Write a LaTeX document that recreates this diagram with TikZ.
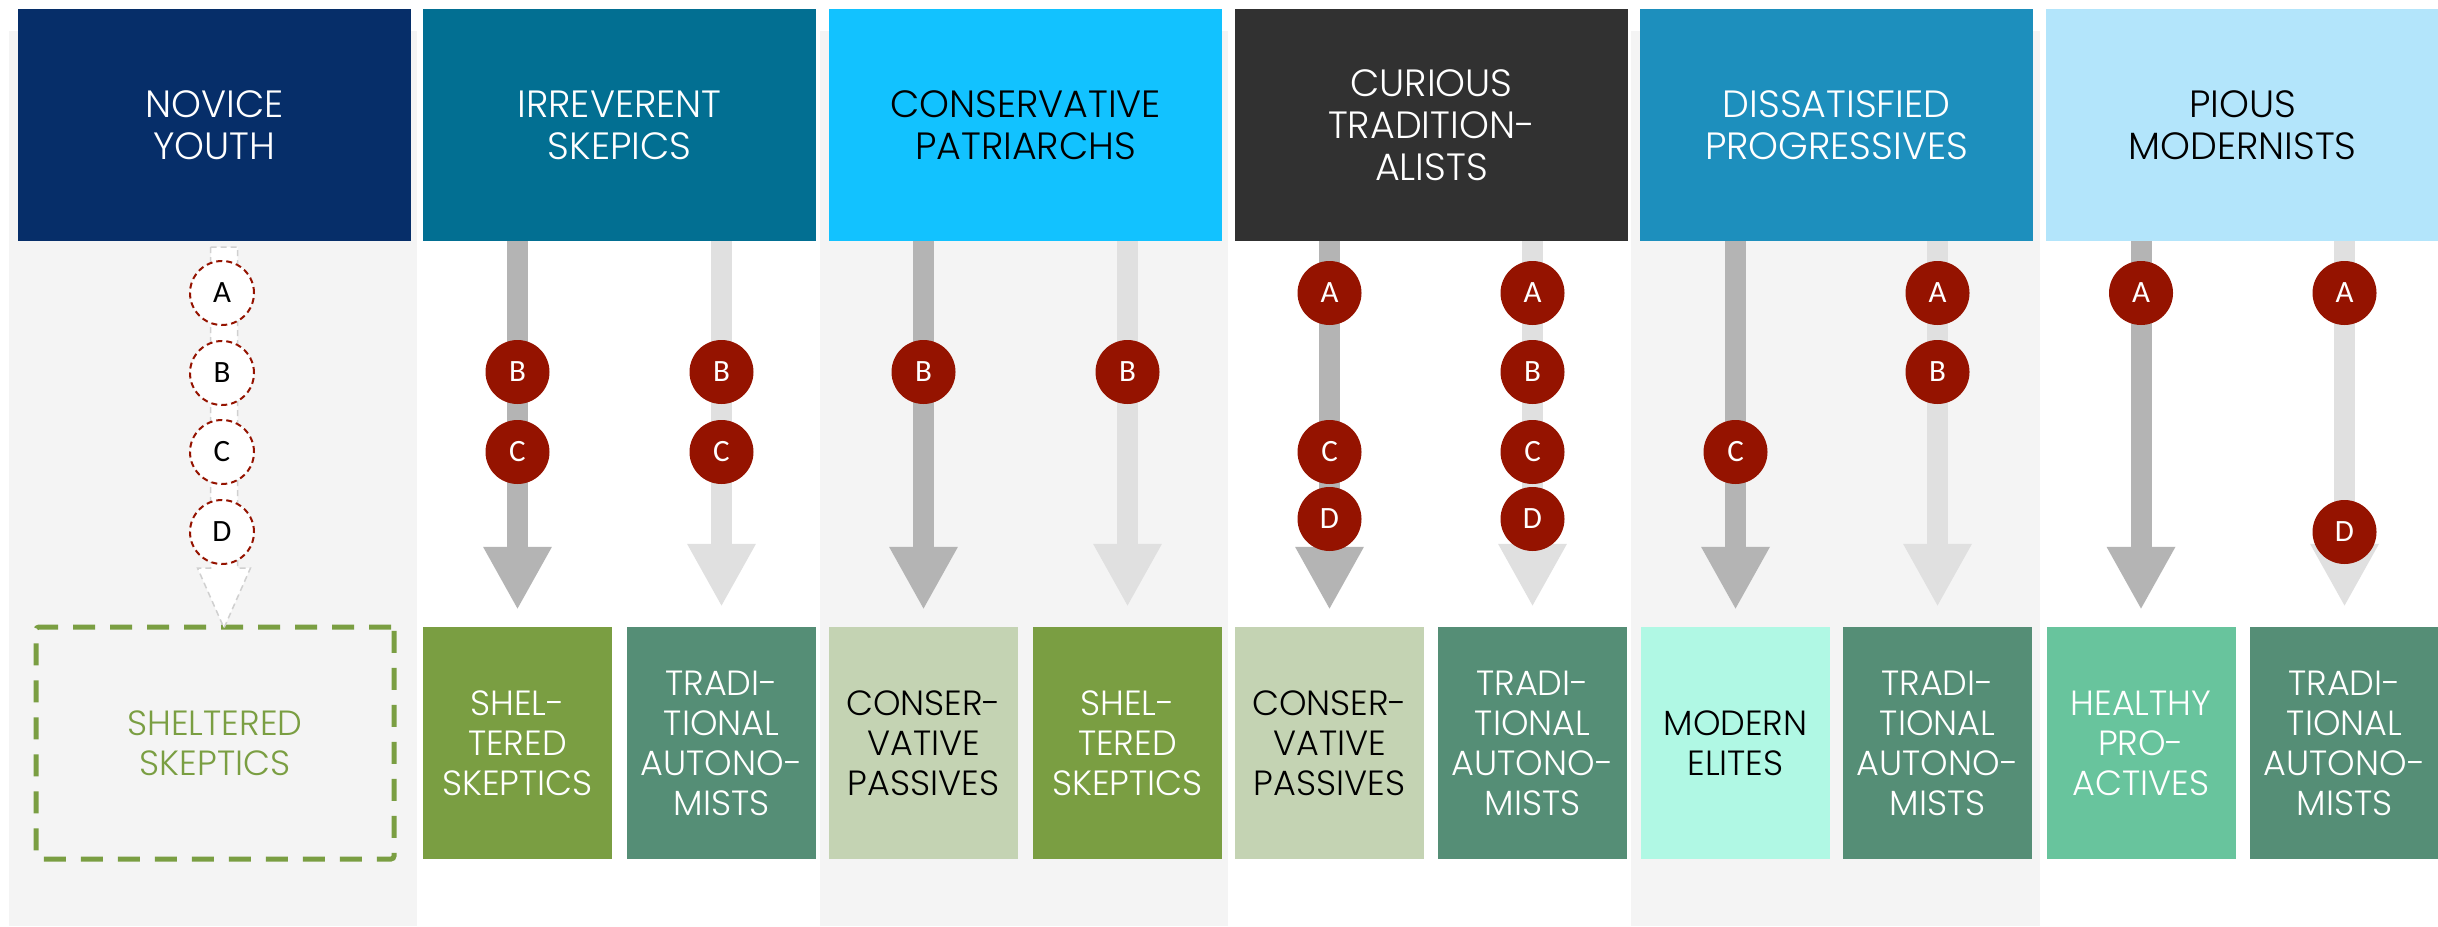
\documentclass[tikz,border=0pt]{standalone}
\usepackage{fontspec}
\usetikzlibrary{arrows.meta,calc}
\newfontfamily\headfont{Poppins}[UprightFont={* Light}]
\newfontfamily\circfont{Carlito}

\definecolor{navy}{HTML}{062E69}
\definecolor{teal}{HTML}{026F92}
\definecolor{cyan}{HTML}{12C2FF}
\definecolor{charcoal}{HTML}{313131}
\definecolor{midblue}{HTML}{1D8FBD}
\definecolor{paleblue}{HTML}{B3E5FB}
\definecolor{crimson}{HTML}{951300}
\definecolor{panel}{HTML}{F4F4F4}
\definecolor{arrowdark}{HTML}{B4B4B4}
\definecolor{arrowlight}{HTML}{E0E0E0}
\definecolor{ghostline}{HTML}{D0D0D0}
\definecolor{olive}{HTML}{7A9E42}
\definecolor{sage}{HTML}{558E76}
\definecolor{pastel}{HTML}{C4D3B3}
\definecolor{mint}{HTML}{B0F8E4}
\definecolor{jade}{HTML}{68C49D}

\tikzset{
  hdr/.style={minimum width=393pt, minimum height=232pt, inner sep=0pt, align=center,
    font=\headfont\fontsize{38}{42}\selectfont},
  seg/.style={minimum width=189pt, minimum height=232pt, inner sep=0pt, align=center,
    font=\headfont\fontsize{35}{40}\selectfont},
  sheltered/.style={seg, fill=olive, text=white},
  autonomists/.style={seg, fill=sage, text=white},
  passives/.style={seg, fill=pastel, text=black},
  elites/.style={seg, fill=mint, text=black},
  proactives/.style={seg, fill=jade, text=white},
  stage/.style={circle, minimum size=64pt, inner sep=0pt, fill=crimson, text=white,
    font=\circfont\fontsize{31}{31}\selectfont},
  ghost/.style={circle, minimum size=64pt, inner sep=0pt, fill=white, draw=crimson,
    line width=2pt, dash pattern=on 6pt off 4pt, text=black,
    font=\circfont\fontsize{31}{31}\selectfont},
  strongpath/.style={draw=arrowdark, line width=21pt,
    -{Triangle[width=64pt,length=63pt]}, shorten >=17pt},
  weakpath/.style={draw=arrowlight, line width=21pt,
    -{Triangle[width=64pt,length=63pt]}, shorten >=20pt},
}

\begin{document}
\begin{tikzpicture}[x=1pt,y=-1pt]
\useasboundingbox (0,0) rectangle (2438,926);
\fill[white] (0,0) rectangle (2438,926);

% shaded column panels
\fill[panel] (9,31) rectangle (417,926);
\fill[panel] (820,31) rectangle (1228,926);
\fill[panel] (1631,31) rectangle (2040,926);

% segment headers
\node[hdr, fill=navy, text=white]     (h1) at (214.5,125)  {NOVICE\\YOUTH};
\node[hdr, fill=teal, text=white]     (h2) at (619.5,125)  {IRREVERENT\\SKEPICS};
\node[hdr, fill=cyan, text=black]     (h3) at (1025.5,125) {CONSERVATIVE\\PATRIARCHS};
\node[hdr, fill=charcoal, text=white] (h4) at (1431.5,125) {CURIOUS\\TRADITION-\\ALISTS};
\node[hdr, fill=midblue, text=white]  (h5) at (1836.5,125) {DISSATISFIED\\PROGRESSIVES};
\node[hdr, fill=paleblue, text=black] (h6) at (2242.5,125) {PIOUS\\MODERNISTS};

% outcome boxes
\node[seg, draw=olive, line width=5pt, dash pattern=on 22pt off 15pt, rounded corners=3pt,
      minimum width=358pt, text=olive] (b1) at (215,743) {SHELTERED\\SKEPTICS};
\node[sheltered]   (b2l) at (517.5,743)  {SHEL-\\TERED\\SKEPTICS};
\node[autonomists] (b2r) at (721.5,743)  {TRADI-\\TIONAL\\AUTONO-\\MISTS};
\node[passives]    (b3l) at (923.5,743)  {CONSER-\\VATIVE\\PASSIVES};
\node[sheltered]   (b3r) at (1127.5,743) {SHEL-\\TERED\\SKEPTICS};
\node[passives]    (b4l) at (1329.5,743) {CONSER-\\VATIVE\\PASSIVES};
\node[autonomists] (b4r) at (1532.5,743) {TRADI-\\TIONAL\\AUTONO-\\MISTS};
\node[elites]      (b5l) at (1735.5,743) {MODERN\\ELITES};
\node[autonomists] (b5r) at (1937.5,743) {TRADI-\\TIONAL\\AUTONO-\\MISTS};
\node[proactives]  (b6l) at (2141,743)   {HEALTHY\\PRO-\\ACTIVES};
\node[autonomists] (b6r) at (2344.5,743) {TRADI-\\TIONAL\\AUTONO-\\MISTS};

% hypothetical path of the novice youth: dashed hollow arrow
\coordinate (g0) at (224,247);
\coordinate (g1) at (224,628);
\draw[ghostline, fill=white, line width=1.5pt, dash pattern=on 6pt off 4pt]
  ($(g0)+(-13.5,0)$) -- ($(g0)+(13.5,0)$) -- ($(g1)+(13.5,-60)$) -- ($(g1)+(26.5,-60)$)
  -- (g1) -- ($(g1)+(-26.5,-60)$) -- ($(g1)+(-13.5,-60)$) -- cycle;
\node[ghost] (n1A) at (222,293) {A};
\node[ghost] (n1B) at (222,373) {B};
\node[ghost] (n1C) at (222,452) {C};
\node[ghost] (n1D) at (222,532) {D};

% transition arrows
\draw[strongpath] (h2.south -| b2l.north) -- (b2l.north);
\draw[weakpath]   (h2.south -| b2r.north) -- (b2r.north);
\draw[strongpath] (h3.south -| b3l.north) -- (b3l.north);
\draw[weakpath]   (h3.south -| b3r.north) -- (b3r.north);
\draw[strongpath] (h4.south -| b4l.north) -- (b4l.north);
\draw[weakpath]   (h4.south -| b4r.north) -- (b4r.north);
\draw[strongpath] (h5.south -| b5l.north) -- (b5l.north);
\draw[weakpath]   (h5.south -| b5r.north) -- (b5r.north);
\draw[strongpath] (h6.south -| b6l.north) -- (b6l.north);
\draw[weakpath]   (h6.south -| b6r.north) -- (b6r.north);

% stage markers
\node[stage] (m2lB) at (b2l.north |- 0,372) {B};
\node[stage] (m2lC) at (b2l.north |- 0,452) {C};
\node[stage] (m2rB) at (b2r.north |- 0,372) {B};
\node[stage] (m2rC) at (b2r.north |- 0,452) {C};

\node[stage] (m3lB) at (b3l.north |- 0,372) {B};
\node[stage] (m3rB) at (b3r.north |- 0,372) {B};

\node[stage] (m4lA) at (b4l.north |- 0,293) {A};
\node[stage] (m4lC) at (b4l.north |- 0,452) {C};
\node[stage] (m4lD) at (b4l.north |- 0,519) {D};
\node[stage] (m4rA) at (b4r.north |- 0,293) {A};
\node[stage] (m4rB) at (b4r.north |- 0,372) {B};
\node[stage] (m4rC) at (b4r.north |- 0,452) {C};
\node[stage] (m4rD) at (b4r.north |- 0,519) {D};

\node[stage] (m5lC) at (b5l.north |- 0,452) {C};
\node[stage] (m5rA) at (b5r.north |- 0,293) {A};
\node[stage] (m5rB) at (b5r.north |- 0,372) {B};

\node[stage] (m6lA) at (b6l.north |- 0,293) {A};
\node[stage] (m6rA) at (b6r.north |- 0,293) {A};
\node[stage] (m6rD) at (b6r.north |- 0,532) {D};
\end{tikzpicture}
\end{document}
